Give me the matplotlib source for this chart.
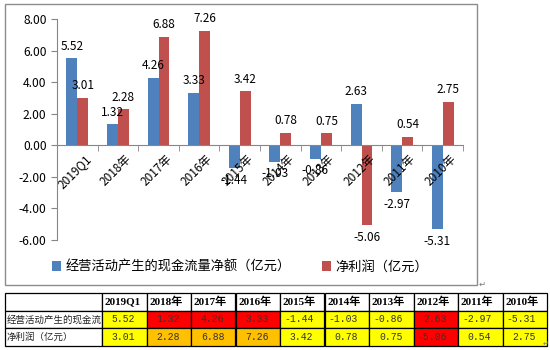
import numpy as np
import matplotlib
matplotlib.use('Agg')
import matplotlib.pyplot as plt
import matplotlib.transforms as mtransforms
from matplotlib.patches import Rectangle
from matplotlib.ticker import FormatStrFormatter

plt.rcParams['font.family'] = ['Noto Sans CJK SC', 'DejaVu Sans']

categories = ['2019Q1', '2018年', '2017年', '2016年', '2015年', '2014年', '2013年', '2012年', '2011年', '2010年']
cash_flow = [5.52, 1.32, 4.26, 3.33, -1.44, -1.03, -0.86, 2.63, -2.97, -5.31]
net_profit = [3.01, 2.28, 6.88, 7.26, 3.42, 0.78, 0.75, -5.06, 0.54, 2.75]
series_names = ['经营活动产生的现金流量净额（亿元）', '净利润（亿元）']
cash_cells = ['#ffff00', '#ff0000', '#ff0000', '#ff0000', '#ffff00', '#ffff00', '#ffff00', '#ff0000', '#ffff00', '#ffff00']
profit_cells = ['#ffff00', '#ffc000', '#ffc000', '#ffc000', '#ffff00', '#ffff00', '#ffff00', '#ff0000', '#ffff00', '#ffff00']

W, H = 550, 350
fig = plt.figure(figsize=(5.5, 3.5), dpi=100)


def px(x0, y0, x1, y1):
    # pixel box (top-left origin) -> figure fraction rect
    return [x0 / W, 1 - y1 / H, (x1 - x0) / W, (y1 - y0) / H]


# chart frame
fr = px(5, 4, 477, 285)
fig.patches.append(Rectangle((fr[0], fr[1]), fr[2], fr[3], transform=fig.transFigure,
                             fill=False, edgecolor='#8c8c8c', lw=1))

ax = fig.add_axes(px(57, 19, 463, 240))
x = np.arange(len(categories))
bw = 0.27
b1 = ax.bar(x - bw / 2, cash_flow, bw, color='#4f81bd', label=series_names[0])
b2 = ax.bar(x + bw / 2, net_profit, bw, color='#c0504d', label=series_names[1])
ax.bar_label(b1, fmt='%.2f', padding=4, fontsize=8.5)
ax.bar_label(b2, fmt='%.2f', padding=4, fontsize=8.5)

ax.set_xlim(-0.5, len(categories) - 0.5)
ax.set_ylim(-6, 8)
ax.set_yticks(np.arange(-6, 9, 2))
ax.yaxis.set_major_formatter(FormatStrFormatter('%.2f'))
ax.spines[['top', 'right']].set_visible(False)
ax.spines['bottom'].set_position(('data', 0))
ax.spines['left'].set_color('#868686')
ax.spines['bottom'].set_color('#868686')
ax.tick_params(axis='y', labelsize=8.7, color='#868686', length=4)

ax.set_xticks(x)
ax.set_xticklabels(categories, rotation=45, ha='right', va='top', rotation_mode='anchor', fontsize=8.5)
ax.set_xticks(np.arange(-0.5, len(categories), 1), minor=True)
ax.tick_params(axis='x', which='major', length=0, pad=5)
ax.tick_params(axis='x', which='minor', length=4, color='#868686')
shift = mtransforms.ScaledTranslation(0.07, 0, fig.dpi_scale_trans)
for lab in ax.get_xticklabels():
    lab.set_transform(lab.get_transform() + shift)

fig.legend(handles=[b1, b2], loc='center', bbox_to_anchor=(240 / W, 1 - 267 / H), ncol=2,
           frameon=False, fontsize=9.5, handlelength=0.7, handleheight=0.7,
           handletextpad=0.3, columnspacing=2.4)

# data table below the chart
ax_t = fig.add_axes([0, 0, 1, 1])
ax_t.axis('off')
cell_text = [[''] + categories,
             [series_names[0]] + ['%.2f' % v for v in cash_flow],
             [series_names[1]] + ['%.2f' % v for v in net_profit]]
cell_colours = [['white'] * 11, ['white'] + cash_cells, ['white'] + profit_cells]
col_w = [97] + [44.5] * 10
tbl = ax_t.table(cellText=cell_text, cellColours=cell_colours, colWidths=col_w,
                 cellLoc='right', bbox=px(5, 293, 547, 346))
tbl.auto_set_font_size(False)
clip = mtransforms.TransformedBbox(mtransforms.Bbox([[5 / W, 0], [101 / W, 1]]), fig.transFigure)
for (r, c), cell in tbl.get_celld().items():
    cell.set_linewidth(0.9)
    t = cell.get_text()
    if r == 0:
        cell._loc = 'left'
        cell.PAD = 0.06
        t.set_ha('left')
        t.set_fontfamily(['Liberation Serif', 'Noto Sans CJK SC'])
        t.set_fontweight('bold')
        t.set_fontsize(8)
    elif c == 0:
        cell._loc = 'left'
        cell.PAD = 0.02
        t.set_ha('left')
        t.set_fontsize(6.8)
        t.set_color('#222222')
        t.set_clip_box(clip)
        t.set_clip_on(True)
    else:
        cell.PAD = 0.25
        t.set_fontfamily('Liberation Mono')
        t.set_fontsize(7)
        t.set_color('#333333')

fig.text(479 / W, 1 - 287 / H, '↵', fontsize=6, color='#777777', family=['DejaVu Sans'])
fig.text(543 / W, 1 - 346 / H, '↵', fontsize=5, color='#777777', family=['DejaVu Sans'])

fig.savefig('out.png', dpi=100)
